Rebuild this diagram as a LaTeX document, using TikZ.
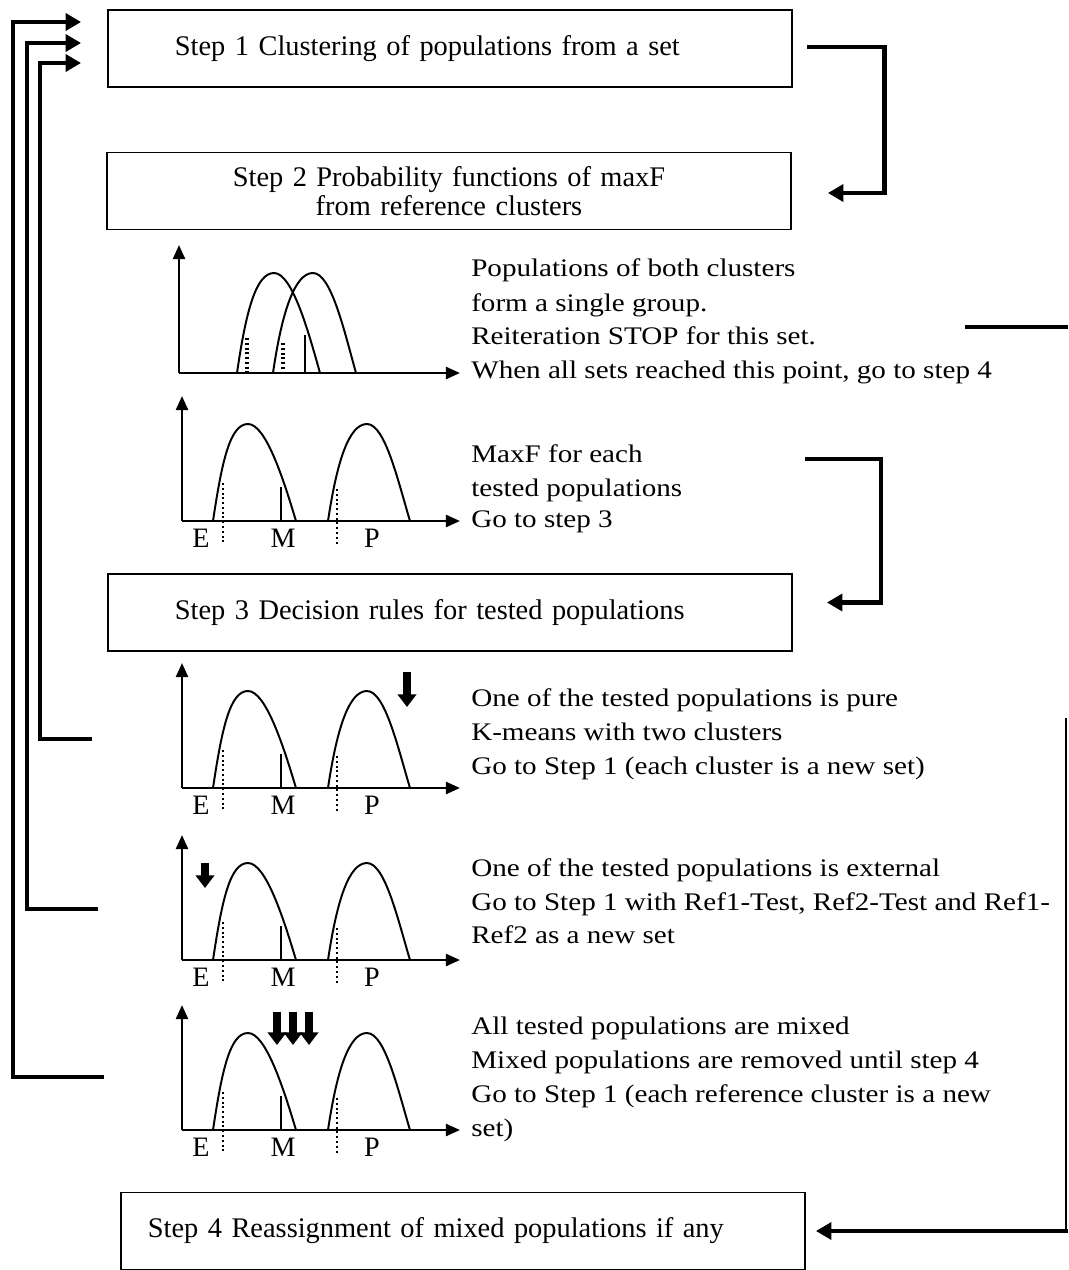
\documentclass[tikz,border=0pt]{standalone}
\usepackage{fontspec}
\setmainfont{Liberation Serif}
\newfontfamily\bodyfont[FakeStretch=1.15]{Liberation Serif}
\usetikzlibrary{arrows.meta,calc}

\begin{document}
\begin{tikzpicture}[x=0.025cm, y=-0.025cm,
  stepbox/.style={draw, line width=1.2pt, minimum width=17.1cm, minimum height=1.925cm,
    font=\fontsize{20.2}{20.6}\selectfont, inner xsep=1.675cm, text width=13.75cm, align=left},
  txt/.style={anchor=base west, inner sep=0pt, font=\bodyfont\fontsize{18}{24}\selectfont},
  lbl/.style={anchor=base, inner sep=0pt, font=\fontsize{20}{20}\selectfont},
  flow/.style={line width=3.5pt, -{Triangle[length=11pt,width=12pt]}},
  axis/.style={line width=1.8pt, -{Triangle[length=10pt,width=8.5pt]}},
  curve/.style={line width=1.4pt},
  guide/.style={line width=1.4pt, dotted},
  marker/.style={line width=5pt, -{Triangle[length=9pt,width=13pt]}}]
\useasboundingbox (0,0) rectangle (1068,1270);

% the four steps
\node[stepbox] (s1) at (450,48.5) {Step 1 Clustering of populations from a set};
\node[stepbox, align=center, inner xsep=0.2cm, text width=16.65cm] (s2) at (449,191)
  {Step 2 Probability functions of maxF\\from reference clusters};
\node[stepbox] (s3) at (450,612.5) {Step 3 Decision rules for tested populations};
\node[stepbox, inner xsep=0.65cm, text width=15.75cm] (s4) at (463,1231)
  {Step 4 Reassignment of mixed populations if any};

% overlapping functions (single group)
\draw[axis] (179,373) -- (179,245);
\draw[axis] (179,373) -- (460,373);
\draw[curve] (237,373) .. controls (246,311) and (256,273) .. (274,273) .. controls (292,273) and (308,330) .. (320,373);
\draw[curve] (273,373) .. controls (282,311) and (295,273) .. (313,273) .. controls (331,273) and (344,330) .. (356,373);
\draw[guide, line width=2.2pt] (247,338) -- (247,373);
\draw[guide, line width=2.2pt] (283,343) -- (283,373);
\draw[line width=1pt] (305,335) -- (305,373);

% separated functions E / M / P
\foreach \y/\n in {521/a, 788/b, 960/c, 1130/d}{
  \draw[axis] (182,\y) -- (182,\y-125);
  \draw[axis] (182,\y) -- (460,\y);
  \draw[curve] (213,\y) .. controls (222,\y-60) and (230,\y-97) .. (248,\y-97) .. controls (266,\y-97) and (284,\y-40) .. (296,\y);
  \draw[curve] (328,\y) .. controls (337,\y-60) and (349,\y-97) .. (367,\y-97) .. controls (385,\y-97) and (398,\y-40) .. (410,\y);
  \draw[guide] (223,\y-38) -- (223,\y+24);
  \draw[guide] (337,\y-32) -- (337,\y+24);
  \draw[line width=1pt] (281,\y-34) -- (281,\y);
  \node[lbl] (e\n) at (201,\y+26) {E};
  \node[lbl] (m\n) at (283,\y+26) {M};
  \node[lbl] (p\n) at (372,\y+26) {P};
}

% decision markers
\draw[marker] (407,672) -- (407,707);
\draw[marker] (205,863) -- (205,888);
\foreach \x in {277,293,309}
  \draw[marker] (\x,1012) -- (\x,1045);

% texts beside the functions
\foreach \y/\t [count=\i] in {
    276/{Populations of both clusters},
    311/{form a single group.},
    344/{Reiteration STOP for this set.},
    378/{When all sets reached this point, go to step 4},
    462/{MaxF for each},
    496/{tested populations},
    527/{Go to step 3},
    706/{One of the tested populations is pure},
    740/{K-means with two clusters},
    774/{Go to Step 1 (each cluster is a new set)},
    876/{One of the tested populations is external},
    910/{Go to Step 1 with Ref1-Test, Ref2-Test and Ref1-},
    943/{Ref2 as a new set},
    1034/{All tested populations are mixed},
    1068/{Mixed populations are removed until step 4},
    1102/{Go to Step 1 (each reference cluster is a new},
    1136/{set)}}{
  \node[txt] (t\i) at (471,\y) {\t};
}

% right hand connectors
\draw[flow] ($(s1.east)+(14,-1.5)$) -- ++(78,0) |- ($(s2.east)+(36,2)$);
\coordinate (g3) at (805,459);
\draw[flow] (g3) -- ++(76,0) |- ($(s3.east)+(34,-10)$);
\coordinate (r1) at (965,327);
\coordinate (r2) at (1068,327);
\draw[line width=3.5pt] (r1) -- (r2);
\coordinate (r3) at (1066,718);
\draw[line width=1pt] (r3) -- (r3 |- s4.east);
\draw[flow] ($(r3 |- s4.east)+(2,0)$) -- ($(s4.east)+(10,0)$);

% back to step 1
\coordinate (l3) at (92,739);
\coordinate (l4) at (98,909);
\coordinate (l5) at (104,1077);
\draw[flow] (l3) -- ++(-52,0) |- ($(s1.west)+(-26,14.5)$);
\draw[flow] (l4) -- ++(-71,0) |- ($(s1.west)+(-26,-5.5)$);
\draw[flow] (l5) -- ++(-91,0) |- ($(s1.west)+(-26,-26.5)$);
\end{tikzpicture}
\end{document}
